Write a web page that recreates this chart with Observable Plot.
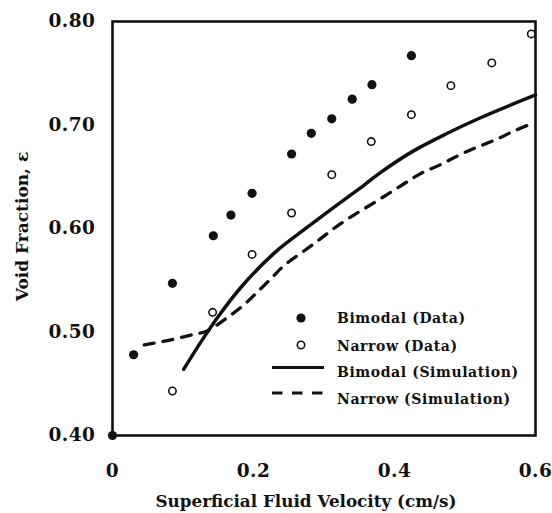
<!DOCTYPE html>
<html>
<head>
<meta charset="utf-8">
<script src="https://cdn.jsdelivr.net/npm/d3@7"></script>
<script src="https://cdn.jsdelivr.net/npm/@observablehq/plot@0.6"></script>
<style>
  html, body { margin: 0; padding: 0; background: #fff; }
  #wrap { position: relative; width: 552px; height: 513px; }
  #legend { position: absolute; left: 262px; top: 303px; }
  #legend text { font-family: "DejaVu Serif", serif; font-weight: bold; font-size: 14px; fill: #111; letter-spacing: 0.6px; }
  [aria-label="x-axis tick label"] text, [aria-label="y-axis tick label"] text { letter-spacing: 0.5px; }
  [aria-label="x-title"] text { letter-spacing: 0.9px; }
  [aria-label="y-title"] text { letter-spacing: 1.2px; }
</style>
</head>
<body>
<div id="wrap"></div>
<script>
// Bimodal (Data) — filled circles
const bimodalX = [0, 0.03, 0.085, 0.143, 0.168, 0.198, 0.254, 0.282, 0.311, 0.340, 0.368, 0.424];
const bimodalY = [0.400, 0.478, 0.547, 0.593, 0.613, 0.634, 0.672, 0.692, 0.706, 0.725, 0.739, 0.767];
// Narrow (Data) — open circles
const narrowX = [0.085, 0.142, 0.198, 0.254, 0.311, 0.367, 0.424, 0.480, 0.538, 0.594];
const narrowY = [0.443, 0.519, 0.575, 0.615, 0.652, 0.684, 0.710, 0.738, 0.760, 0.788];
// Bimodal (Simulation) — solid line
const bimodalSimX = [0.101, 0.125, 0.149, 0.182, 0.229, 0.276, 0.323, 0.357, 0.380, 0.427, 0.475, 0.522, 0.600];
const bimodalSimY = [0.464, 0.490, 0.514, 0.543, 0.576, 0.601, 0.625, 0.642, 0.654, 0.675, 0.692, 0.707, 0.729];
// Narrow (Simulation) — dashed line
const narrowSimX = [0.045, 0.080, 0.111, 0.134, 0.163, 0.186, 0.203, 0.224, 0.243, 0.269, 0.293, 0.316, 0.340, 0.364, 0.390, 0.413, 0.437, 0.463, 0.489, 0.515, 0.541, 0.569, 0.597];
const narrowSimY = [0.4875, 0.492, 0.497, 0.501, 0.514, 0.526, 0.537, 0.551, 0.564, 0.577, 0.589, 0.601, 0.612, 0.622, 0.633, 0.643, 0.653, 0.661, 0.670, 0.678, 0.685, 0.694, 0.702];
// Ticks
const xTicks = [0, 0.2, 0.4, 0.6];
const xTickLabels = ["0", "0.2", "0.4", "0.6"];
const yTicks = [0.40, 0.50, 0.60, 0.70, 0.80];
const yTickLabels = ["0.40", "0.50", "0.60", "0.70", "0.80"];
const xTitle = "Superficial Fluid Velocity (cm/s)";
const yTitle = "Void Fraction, ε";
const legendLabels = ["Bimodal (Data)", "Narrow (Data)", "Bimodal (Simulation)", "Narrow (Simulation)"];

const zip = (xs, ys) => xs.map((x, i) => ({x, y: ys[i]}));
const bimodal = zip(bimodalX, bimodalY);
const narrow = zip(narrowX, narrowY);
const bimodalSim = zip(bimodalSimX, bimodalSimY);
const narrowSim = zip(narrowSimX, narrowSimY);

const font = "'DejaVu Serif', 'Liberation Serif', serif";

const chart = Plot.plot({
  width: 552,
  height: 513,
  marginLeft: 112,
  marginRight: 17,
  marginTop: 21,
  marginBottom: 78,
  style: {fontFamily: font, fontWeight: "bold", fontSize: "18px", color: "#111", background: "#fff"},
  x: {domain: [0, 0.6]},
  y: {domain: [0.40, 0.80]},
  marks: [
    Plot.axisX(xTicks, {tickSize: 0, tickPadding: 28, tickFormat: (d, i) => xTickLabels[i], label: null, fontSize: 18.5, fontWeight: "bold", fontFamily: font}),
    Plot.axisY(yTicks, {tickSize: 0, tickPadding: 17, tickFormat: (d, i) => yTickLabels[i], label: null, fontSize: 18.5, fontWeight: "bold", fontFamily: font}),
    Plot.text([xTitle], {frameAnchor: "bottom", lineAnchor: "middle", textAnchor: "middle", dx: -18, dy: 66, fontSize: 16.8, fontWeight: "bold", fontFamily: font, fill: "#111", ariaLabel: "x-title"}),
    Plot.text([yTitle], {frameAnchor: "left", lineAnchor: "middle", textAnchor: "middle", dx: -90, dy: -2, rotate: -90, fontSize: 17, fontWeight: "bold", fontFamily: font, fill: "#111", ariaLabel: "y-title"}),
    Plot.frame({stroke: "#111", strokeWidth: 2.6}),
    Plot.line(bimodalSim, {x: "x", y: "y", stroke: "#111", strokeWidth: 3.5, curve: "catmull-rom"}),
    Plot.line(narrowSim, {x: "x", y: "y", stroke: "#111", strokeWidth: 3.3, strokeDasharray: "10 9", curve: "catmull-rom"}),
    Plot.dot(bimodal, {x: "x", y: "y", r: 4.6, fill: "#111", stroke: "none"}),
    Plot.dot(narrow, {x: "x", y: "y", r: 3.7, fill: "#fff", stroke: "#111", strokeWidth: 1.6})
  ]
});
const wrap = document.getElementById("wrap");
wrap.appendChild(chart);

// Legend overlay
const ns = "http://www.w3.org/2000/svg";
const lg = document.createElementNS(ns, "svg");
lg.setAttribute("id", "legend");
lg.setAttribute("width", 270);
lg.setAttribute("height", 110);
const rows = [15, 43, 69, 96];
const items = [{type: "filled"}, {type: "open"}, {type: "solid"}, {type: "dashed"}];
items.forEach((it, i) => {
  const cy = rows[i];
  if (it.type === "filled") {
    const c = document.createElementNS(ns, "circle");
    c.setAttribute("cx", 39); c.setAttribute("cy", cy); c.setAttribute("r", 4.6); c.setAttribute("fill", "#111");
    lg.appendChild(c);
  } else if (it.type === "open") {
    const c = document.createElementNS(ns, "circle");
    c.setAttribute("cx", 39); c.setAttribute("cy", cy - 1); c.setAttribute("r", 3.7); c.setAttribute("fill", "#fff");
    c.setAttribute("stroke", "#111"); c.setAttribute("stroke-width", 1.6);
    lg.appendChild(c);
  } else {
    const ly = it.type === "solid" ? 64.5 : 90;
    const l = document.createElementNS(ns, "line");
    l.setAttribute("x1", 10); l.setAttribute("x2", 62); l.setAttribute("y1", ly); l.setAttribute("y2", ly);
    l.setAttribute("stroke", "#111"); l.setAttribute("stroke-width", 3);
    if (it.type === "dashed") l.setAttribute("stroke-dasharray", "10.5 9.5");
    lg.appendChild(l);
  }
  const t = document.createElementNS(ns, "text");
  t.setAttribute("x", 75); t.setAttribute("y", cy); t.setAttribute("dy", "0.35em");
  t.textContent = legendLabels[i];
  lg.appendChild(t);
});
wrap.appendChild(lg);
</script>
</body>
</html>
